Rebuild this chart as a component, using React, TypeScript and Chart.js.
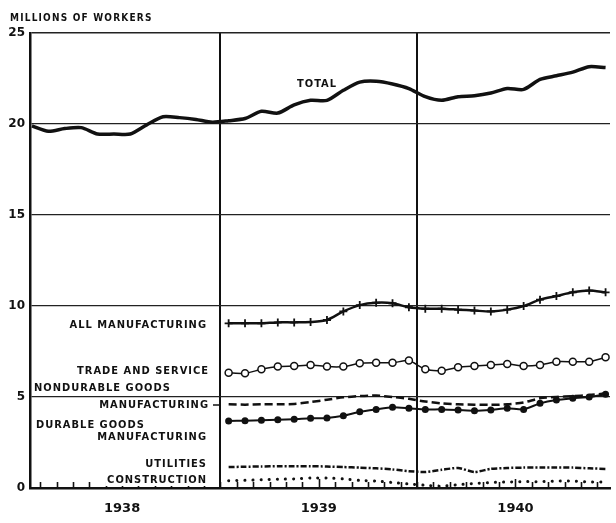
import React, { useEffect, useRef } from "react";
import { Chart, registerables } from "chart.js";

Chart.register(...registerables);

// Months are indexed from Jan 1938 (0) to Dec 1940 (35)
const YEARS = ["1938", "1939", "1940"];
const Y_TICKS = [0, 5, 10, 15, 20, 25];

// Total: Jan 1938 - Dec 1940
const TOTAL = [
  19.9, 19.6, 19.75, 19.8, 19.45, 19.45, 19.45, 19.95, 20.4, 20.35, 20.25, 20.1,
  20.18, 20.3, 20.7, 20.6, 21.05, 21.3, 21.3, 21.85, 22.3, 22.35, 22.2, 21.95,
  21.5, 21.3, 21.5, 21.55, 21.7, 21.95, 21.9, 22.45, 22.65, 22.85, 23.15, 23.1,
];

// The following series: Jan 1939 - Dec 1940
const SUB_START = 12;
const ALL_MANUF = [
  9.05, 9.05, 9.05, 9.1, 9.1, 9.12, 9.23, 9.7, 10.05, 10.18, 10.15, 9.93,
  9.85, 9.85, 9.8, 9.75, 9.7, 9.8, 10.0, 10.35, 10.55, 10.75, 10.85, 10.75,
];
const TRADE = [
  6.33, 6.3, 6.52, 6.67, 6.7, 6.76, 6.67, 6.67, 6.85, 6.88, 6.88, 7.0,
  6.52, 6.44, 6.63, 6.7, 6.76, 6.81, 6.7, 6.76, 6.94, 6.94, 6.94, 7.18,
];
const NONDURABLE = [
  4.6, 4.58, 4.6, 4.6, 4.62, 4.72, 4.85, 4.98, 5.05, 5.08, 5.0, 4.9,
  4.75, 4.65, 4.6, 4.58, 4.57, 4.6, 4.7, 4.93, 5.0, 5.05, 5.1, 5.2,
];
const DURABLE = [
  3.68, 3.7, 3.72, 3.75, 3.78, 3.83, 3.85, 3.97, 4.19, 4.32, 4.43, 4.38,
  4.32, 4.32, 4.29, 4.25, 4.29, 4.38, 4.32, 4.65, 4.84, 4.93, 5.0, 5.15,
];
const UTILITIES = [
  1.15, 1.17, 1.18, 1.2, 1.2, 1.2, 1.18, 1.15, 1.12, 1.08, 1.02, 0.92,
  0.88, 1.0, 1.1, 0.88, 1.05, 1.1, 1.12, 1.12, 1.12, 1.12, 1.08, 1.05,
];
const CONSTRUCTION = [
  0.4, 0.42, 0.45, 0.48, 0.5, 0.55, 0.55, 0.5, 0.42, 0.38, 0.3, 0.22,
  0.15, 0.1, 0.18, 0.25, 0.3, 0.33, 0.35, 0.35, 0.38, 0.38, 0.33, 0.33,
];

const TITLE = "MILLIONS OF WORKERS";

// label text, anchor x (px), y (px), alignment
const LABELS: { text: string; x: number; y: number; align: CanvasTextAlign; leader?: boolean }[] = [
  { text: "TOTAL", x: 297, y: 84, align: "left" },
  { text: "ALL MANUFACTURING", x: 207, y: 325, align: "right" },
  { text: "TRADE AND SERVICE", x: 209, y: 371, align: "right" },
  { text: "NONDURABLE GOODS", x: 34, y: 388, align: "left" },
  { text: "MANUFACTURING", x: 209, y: 405, align: "right", leader: true },
  { text: "DURABLE GOODS", x: 36, y: 425, align: "left" },
  { text: "MANUFACTURING", x: 207, y: 437, align: "right" },
  { text: "UTILITIES", x: 207, y: 464, align: "right" },
  { text: "CONSTRUCTION", x: 207, y: 480, align: "right" },
];

const toPts = (vals: number[], start: number) => vals.map((v, i) => ({ x: start + i, y: v }));

const FONT = '"DejaVu Sans", "Liberation Sans", sans-serif';
const LABEL_FONT = '"DejaVu Sans Condensed", "DejaVu Sans", sans-serif';
const INK = "#111";

const decorPlugin = {
  id: "decor",
  afterDatasetsDraw(chart: any) {
    const ctx: CanvasRenderingContext2D = chart.ctx;
    const xs = chart.scales.x;
    const area = chart.chartArea;
    ctx.save();
    // monthly tick marks along the base, pointing up
    ctx.strokeStyle = INK;
    ctx.lineWidth = 1.6;
    for (let i = 0; i < 35; i++) {
      const v = i + 0.5;
      const px = Math.round(xs.getPixelForValue(v)) + 0.5;
      const tall = (i - 5) % 12 === 0;
      ctx.beginPath();
      ctx.moveTo(px, area.bottom);
      ctx.lineTo(px, area.bottom - (tall ? 9 : 6));
      ctx.stroke();
    }
    // series labels with white backgrounds
    ctx.font = `bold 11px ${LABEL_FONT}`;
    (ctx as any).letterSpacing = "1px";
    ctx.textBaseline = "middle";
    for (const l of LABELS) {
      const w = ctx.measureText(l.text).width;
      const left = l.align === "right" ? l.x - w : l.x;
      ctx.fillStyle = "#fff";
      ctx.fillRect(left - 2, l.y - 6, w + 4, 12);
      ctx.fillStyle = INK;
      ctx.textAlign = l.align;
      ctx.fillText(l.text, l.x, l.y + 0.5);
      if (l.leader) {
        ctx.beginPath();
        ctx.lineWidth = 1.5;
        ctx.moveTo(l.x + 4, l.y);
        ctx.lineTo(l.x + 11, l.y);
        ctx.stroke();
      }
    }
    // axis title
    ctx.font = `bold 10px ${LABEL_FONT}`;
    (ctx as any).letterSpacing = "1.2px";
    ctx.textAlign = "left";
    ctx.fillStyle = INK;
    ctx.fillText(TITLE, 10, 18);
    ctx.restore();
  },
};

export default function App() {
  const ref = useRef<HTMLCanvasElement | null>(null);

  useEffect(() => {
    if (!ref.current) return;
    const mids = YEARS.map((_, j) => 12 * j + 5.5);
    const bounds = [11.5, 23.5];
    const chart = new Chart(ref.current, {
      type: "line",
      data: {
        datasets: [
          {
            label: "Total",
            data: toPts(TOTAL, 0),
            borderColor: INK,
            borderWidth: 3.5,
            pointRadius: 0,
            tension: 0.25,
            borderJoinStyle: "round",
          },
          {
            label: "All manufacturing",
            data: toPts(ALL_MANUF, SUB_START),
            borderColor: INK,
            borderWidth: 2.5,
            pointStyle: "cross",
            pointRadius: 4,
            pointBorderWidth: 1.8,
            pointBorderColor: INK,
            tension: 0.25,
          },
          {
            label: "Trade and service",
            data: toPts(TRADE, SUB_START),
            borderColor: INK,
            borderWidth: 1.5,
            pointStyle: "circle",
            pointRadius: 3.5,
            pointBorderWidth: 1.5,
            pointBackgroundColor: "#fff",
            pointBorderColor: INK,
            tension: 0.2,
          },
          {
            label: "Nondurable goods manufacturing",
            data: toPts(NONDURABLE, SUB_START),
            borderColor: INK,
            borderWidth: 2.5,
            borderDash: [8, 4],
            pointRadius: 0,
            tension: 0.25,
          },
          {
            label: "Durable goods manufacturing",
            data: toPts(DURABLE, SUB_START),
            borderColor: INK,
            borderWidth: 2,
            pointStyle: "circle",
            pointRadius: 2.5,
            pointBackgroundColor: INK,
            pointBorderColor: INK,
            tension: 0.2,
          },
          {
            label: "Utilities",
            data: toPts(UTILITIES, SUB_START),
            borderColor: INK,
            borderWidth: 2.5,
            borderDash: [6, 2, 2, 2],
            pointRadius: 0,
            tension: 0.2,
          },
          {
            label: "Construction",
            data: toPts(CONSTRUCTION, SUB_START),
            borderColor: INK,
            borderWidth: 3,
            borderDash: [0.1, 8],
            borderCapStyle: "round",
            pointRadius: 0,
            tension: 0.2,
          },
        ],
      },
      options: {
        animation: false,
        responsive: false,
        maintainAspectRatio: false,
        layout: { padding: { top: 33, right: 1, left: 0, bottom: 0 } },
        plugins: {
          legend: { display: false },
          tooltip: { enabled: false },
          title: { display: false },
        },
        scales: {
          x: {
            type: "linear",
            min: -0.12,
            max: 35.27,
            afterBuildTicks: (s: any) => {
              s.ticks = [...mids, ...bounds].sort((a, b) => a - b).map((v) => ({ value: v }));
            },
            afterFit: (s: any) => {
              s.height = 35;
            },
            ticks: {
              autoSkip: false,
              maxRotation: 0,
              padding: 13,
              color: INK,
              font: { family: FONT, size: 13, weight: "bold" },
              callback: (v: any) => {
                const j = mids.indexOf(Number(v));
                return j >= 0 ? YEARS[j] : "";
              },
            },
            grid: {
              drawTicks: false,
              color: (c: any) => (c.tick && bounds.includes(c.tick.value) ? INK : "rgba(0,0,0,0)"),
              lineWidth: 2,
            },
            border: { display: true, color: INK, width: 2.5 },
          },
          y: {
            min: 0,
            max: 25,
            afterBuildTicks: (s: any) => {
              s.ticks = Y_TICKS.map((v) => ({ value: v }));
            },
            afterFit: (s: any) => {
              s.width = 30;
            },
            ticks: {
              padding: 5,
              color: INK,
              font: { family: FONT, size: 12, weight: "bold" },
            },
            grid: {
              drawTicks: false,
              color: (c: any) => (c.tick && c.tick.value === 0 ? "rgba(0,0,0,0)" : "#222"),
              lineWidth: (c: any) => (c.tick && c.tick.value === 25 ? 1.6 : 1.2),
            },
            border: { display: true, color: INK, width: 2.5 },
          },
        },
      },
      plugins: [decorPlugin],
    } as any);
    return () => chart.destroy();
  }, []);

  return (
    <div style={{ position: "absolute", left: 0, top: 0, width: 616, height: 523, background: "#fff" }}>
      <canvas ref={ref} width={616} height={523} style={{ display: "block", width: 616, height: 523 }} />
    </div>
  );
}
